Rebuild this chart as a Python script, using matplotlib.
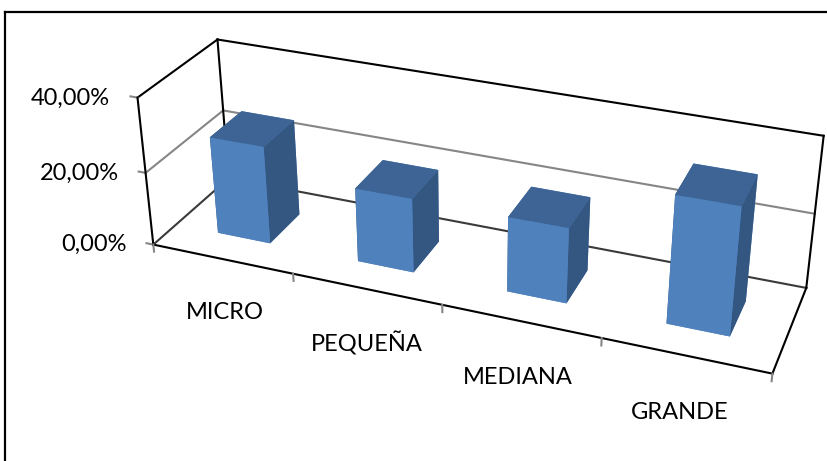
import matplotlib
matplotlib.use('Agg')
import matplotlib.pyplot as plt
import numpy as np
from matplotlib.lines import Line2D

# data
categories = ['MICRO', 'PEQUEÑA', 'MEDIANA', 'GRANDE']
values = [0.2667, 0.20, 0.20, 0.3333]
ticks = [0.0, 0.2, 0.4]
tick_labels = ['0,00%', '20,00%', '40,00%']

plt.rcParams['font.family'] = ['Lato', 'DejaVu Sans']

W, H = 827, 461
fig = plt.figure(figsize=(W / 100, H / 100), dpi=100)

S = 900  # square 3d axes, in pixels
cx, cy = 460 / W, 1 - 205 / H
ax = fig.add_axes([cx - S / W / 2, cy - S / H / 2, S / W, S / H], projection='3d')
ax.set_axis_off()
ax.set_xticks([])
ax.set_yticks([])
ax.set_zticks([])
ax.set_proj_type('persp', focal_length=0.33)
ax.view_init(elev=28, azim=-68.7)
ax.set_box_aspect((4.41, 1.09, 1.14), zoom=0.75)
n = len(categories)
top = ticks[-1]
ax.set_xlim(0, n)
ax.set_ylim(0, 1)
ax.set_zlim(0, top)
ax.computed_zorder = False

black = '#000000'
grey = '#868686'
dark = '#3a3a3a'
lw = 1.5

# walls: back and left, with gridlines
for t in ticks:
    col = black if t == top else (dark if t == 0 else grey)
    ax.plot([0, n], [1, 1], [t, t], color=col, lw=lw, zorder=1)
    ax.plot([0, 0], [0, 1], [t, t], color=col, lw=lw, zorder=1)
    # tick marks on the value axis
    ax.plot([-0.05, 0], [0, 0], [t, t], color=grey, lw=lw, zorder=1)
ax.plot([0, 0], [0, 0], [0, top], color=black, lw=lw, zorder=1)
ax.plot([0, 0], [1, 1], [0, top], color=black, lw=lw, zorder=1)
ax.plot([n, n], [1, 1], [0, top], color=black, lw=lw, zorder=1)
# floor edges
ax.plot([0, n], [0, 0], [0, 0], color=black, lw=lw, zorder=1)
ax.plot([n, n], [0, 1], [0, 0], color=black, lw=lw, zorder=1)
for k in range(n + 1):
    ax.plot([k, k], [0, 0], [0, -0.02], color=grey, lw=lw, zorder=1)

# bars
bw, bd = 0.38, 0.42
front = '#4f81bd'
topc = '#3d6494'
side = '#345782'
face_cols = []
for _ in range(n):
    face_cols += [front, topc, front, front, side, side]
ax.bar3d(np.arange(n) + 0.5 - bw / 2, np.full(n, 0.5 - bd / 2), np.zeros(n),
         bw, bd, values, color=face_cols, shade=False, zorder=2,
         linewidth=0.4, edgecolor=None)

# labels
for t, lab in zip(ticks, tick_labels):
    ax.text(-0.2, 0, t - 0.015, lab, ha='right', va='center', fontsize=17, zorder=3)
for i, c in enumerate(categories):
    ax.text(i + 0.49, 0, -0.155, c, ha='center', va='center', fontsize=17, zorder=3)

# outer frame (cropped)
fig.add_artist(Line2D([5 / W, 5 / W], [0, 1 - 12 / H], color='black', lw=1.6,
                      transform=fig.transFigure))
fig.add_artist(Line2D([5 / W, 1], [1 - 12 / H, 1 - 12 / H], color='black', lw=1.6,
                      transform=fig.transFigure))

fig.savefig('out.png', dpi=100)
